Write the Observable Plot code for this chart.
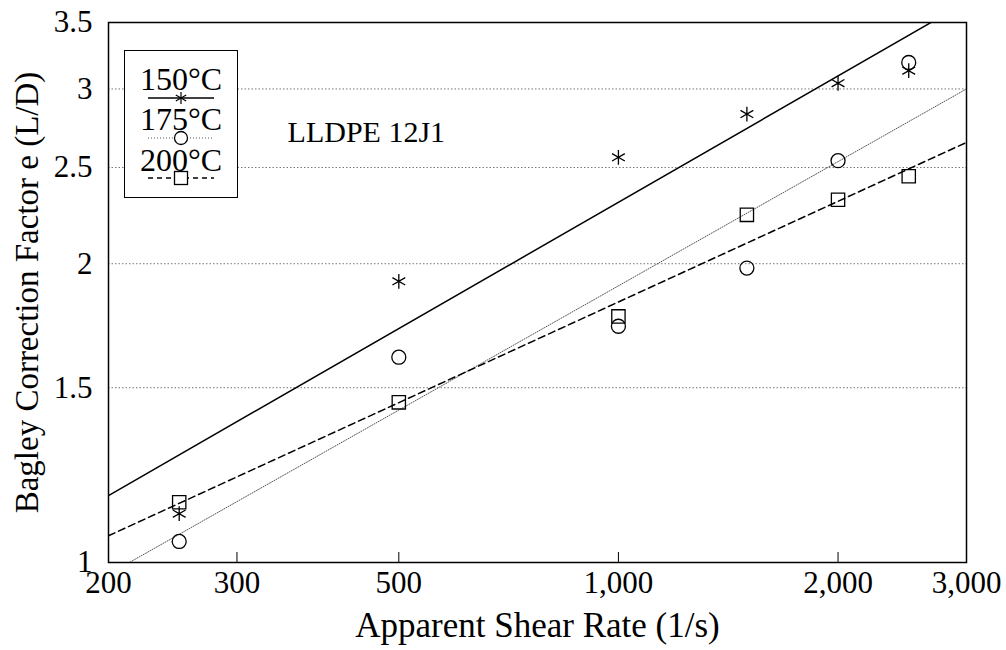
<!DOCTYPE html>
<html>
<head>
<meta charset="utf-8">
<script src="https://cdn.jsdelivr.net/npm/d3@7"></script>
<script src="https://cdn.jsdelivr.net/npm/@observablehq/plot@0.6"></script>
<style>
  html, body { margin: 0; padding: 0; background: #fff; }
  #wrap { position: relative; width: 1006px; height: 650px; font-family: "Liberation Serif", "DejaVu Serif", serif; }
  #legend { position: absolute; left: 124px; top: 50px; width: 112px; height: 146px; border: 1.5px solid #000; background: #fff; }
  .row { position: absolute; left: 0; width: 112px; text-align: center; font-size: 32px; line-height: 32px; color: #000; }
  .sym { position: absolute; left: 21px; }
  g[aria-label="x-axis tick label"], g[aria-label="y-axis tick label"] { font-size: 31px; }
  g[aria-label="x-axis label"] { font-size: 35px; }
  g[aria-label="y-axis label"] { font-size: 33px; }
</style>
</head>
<body>
<div id="wrap"></div>
<script>
// Shear rates (1/s)
const shearRate = [250, 500, 1000, 1500, 2000, 2500];
// Bagley correction factor e (L/D) per temperature
const e150 = [1.12, 1.92, 2.56, 2.83, 3.04, 3.13];
const e175 = [1.05, 1.61, 1.73, 1.98, 2.54, 3.19];
const e200 = [1.15, 1.45, 1.77, 2.24, 2.32, 2.45];
// Power-law fit lines: [start, end] values at the domain edges
const fitX = [200, 3000];
const fit150 = [1.168, 3.67];
const fit175 = [0.973, 3.0];
const fit200 = [1.064, 2.65];
// Axis ticks
const xTicks = [200, 300, 500, 1000, 2000, 3000];
const yTicks = [1, 1.5, 2, 2.5, 3, 3.5];
const gridTicks = [1.5, 2, 2.5, 3];
const labels = ["150°C", "175°C", "200°C"];
const note = {x: 352, y: 2.71, text: "LLDPE 12J1"};

const pts = (ys) => shearRate.map((x, i) => ({x, y: ys[i]}));
const fit = (ys) => fitX.map((x, i) => ({x, y: ys[i]}));

const chart = Plot.plot({
  width: 1006,
  height: 650,
  marginLeft: 108,
  marginRight: 40,
  marginTop: 22,
  marginBottom: 88,
  style: {fontFamily: "'Liberation Serif', serif", fontSize: "31px", color: "#000", background: "#fff"},
  x: {type: "log", domain: [200, 3000]},
  y: {type: "log", domain: [1, 3.5]},
  marks: [
    Plot.gridY(gridTicks, {stroke: "#777", strokeOpacity: 1, strokeDasharray: "1.5,2", strokeWidth: 1}),
    Plot.line(fit(fit150), {x: "x", y: "y", stroke: "#000", strokeWidth: 1.5, clip: true}),
    Plot.line(fit(fit175), {x: "x", y: "y", stroke: "#555", strokeWidth: 1, strokeDasharray: "1,1.5", clip: true}),
    Plot.line(fit(fit200), {x: "x", y: "y", stroke: "#000", strokeWidth: 1.5, strokeDasharray: "7,4", clip: true}),
    Plot.dot(pts(e150), {x: "x", y: "y", symbol: "asterisk", r: 7, stroke: "#000", strokeWidth: 1.3}),
    Plot.dot(pts(e175), {x: "x", y: "y", symbol: "circle", r: 7, stroke: "#000", strokeWidth: 1.3, fill: "none"}),
    Plot.dot(pts(e200), {x: "x", y: "y", symbol: "square", r: 7.5, stroke: "#000", strokeWidth: 1.3, fill: "none"}),
    Plot.text([note], {x: "x", y: "y", text: "text", textAnchor: "start", lineAnchor: "middle", fontSize: 30, fill: "#000"}),
    Plot.axisX({ticks: xTicks, tickFormat: d3.format(","), tickSize: -10, tickPadding: 18, fontSize: 31,
      label: "Apparent Shear Rate (1/s)", labelAnchor: "center", labelArrow: "none", labelOffset: 74}),
    Plot.axisY({ticks: yTicks, tickFormat: (d) => String(d), tickSize: 0, tickPadding: 16, fontSize: 31,
      label: "Bagley Correction Factor e (L/D)", labelAnchor: "center", labelArrow: "none", labelOffset: 94}),
    Plot.frame({stroke: "#000", strokeWidth: 1.5})
  ]
});
const wrap = document.getElementById("wrap");
wrap.appendChild(chart);

// Legend overlay
const legend = document.createElement("div");
legend.id = "legend";
const symbols = [
  `<svg width="70" height="14"><line x1="2" y1="7" x2="68" y2="7" stroke="#000" stroke-width="1.3"/><g stroke="#000" stroke-width="1.2"><line x1="35" y1="1" x2="35" y2="13"/><line x1="29.8" y1="4" x2="40.2" y2="10"/><line x1="29.8" y1="10" x2="40.2" y2="4"/></g></svg>`,
  `<svg width="70" height="16"><line x1="2" y1="8" x2="68" y2="8" stroke="#555" stroke-width="1" stroke-dasharray="1,2"/><circle cx="35" cy="8" r="6.5" fill="#fff" stroke="#000" stroke-width="1.3"/></svg>`,
  `<svg width="70" height="16"><line x1="2" y1="8" x2="68" y2="8" stroke="#000" stroke-width="1.3" stroke-dasharray="5,4"/><rect x="28.5" y="1.5" width="13" height="13" fill="#fff" stroke="#000" stroke-width="1.3"/></svg>`
];
const tops = [12, 52, 93];
const symTops = [40, 79, 119];
labels.forEach((t, i) => {
  const r = document.createElement("div");
  r.className = "row";
  r.style.top = tops[i] + "px";
  r.textContent = t;
  legend.appendChild(r);
  const s = document.createElement("div");
  s.className = "sym";
  s.style.top = symTops[i] + "px";
  s.innerHTML = symbols[i];
  legend.appendChild(s);
});
wrap.appendChild(legend);
</script>
</body>
</html>
